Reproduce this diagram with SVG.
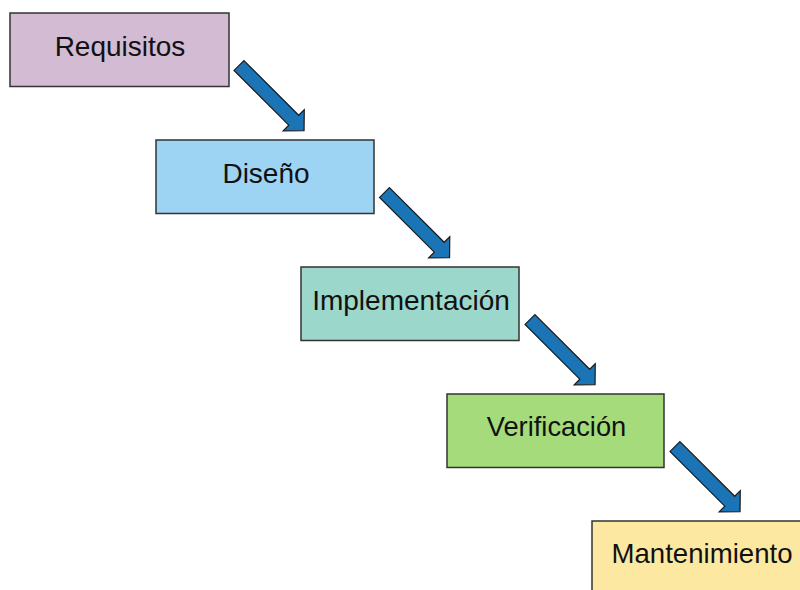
<svg xmlns="http://www.w3.org/2000/svg" width="800" height="590" viewBox="0 0 800 590">
<defs>
<style>
.box{stroke:#333;stroke-width:1.5}
.lbl{font-family:"Liberation Sans",Arial,sans-serif;font-size:28px;fill:#111;text-anchor:middle}
.arr{fill:#1b74b5;stroke:#1a1a1a;stroke-width:1.2;stroke-linejoin:miter}
</style>
<path id="arrow" d="M0,-7 L77.4,-7 L77.4,-14.9 L92,0 L77.4,14.9 L77.4,7 L0,7 Z"/>
</defs>
<rect width="800" height="590" fill="#fff"/>
<g id="connectors">
<use href="#arrow" class="arr" transform="translate(239,65.5) rotate(45)"/>
<use href="#arrow" class="arr" transform="translate(384.5,192.5) rotate(45)"/>
<use href="#arrow" class="arr" transform="translate(530,319.5) rotate(45)"/>
<use href="#arrow" class="arr" transform="translate(675,446.5) rotate(45)"/>
</g>
<g id="requisitos">
<rect class="box" x="10" y="13" width="219" height="73.5" fill="#d4bbd4"/>
<text class="lbl" x="120" y="55.7">Requisitos</text>
</g>
<g id="diseno">
<rect class="box" x="156" y="140" width="218" height="73.5" fill="#9dd3f3"/>
<text class="lbl" x="266" y="182.7">Diseño</text>
</g>
<g id="implementacion">
<rect class="box" x="301" y="267" width="218" height="73.5" fill="#9cd7cb"/>
<text class="lbl" x="411" y="309.5">Implementación</text>
</g>
<g id="verificacion">
<rect class="box" x="447" y="394" width="217" height="73.5" fill="#a5db7a"/>
<text class="lbl" x="556.5" y="435.7" style="font-size:27.3px">Verificación</text>
</g>
<g id="mantenimiento">
<rect class="box" x="592" y="521" width="220" height="80" fill="#fde8a2"/>
<text class="lbl" x="702" y="562.5" style="font-size:27.6px">Mantenimiento</text>
</g>
</svg>
